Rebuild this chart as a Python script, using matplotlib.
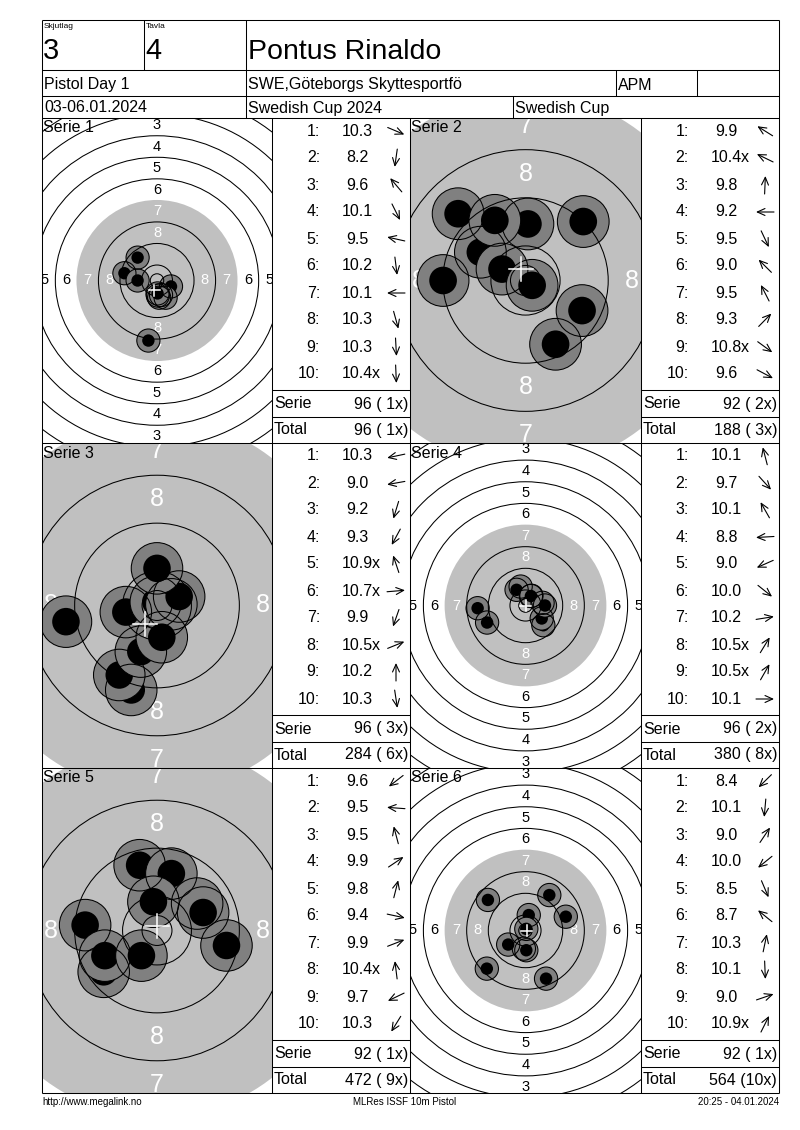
import numpy as np
import matplotlib.pyplot as plt
from matplotlib.patches import Circle

plt.rcParams['font.family'] = ['Liberation Sans', 'DejaVu Sans']

W, H = 800, 1130

# header / footer texts
relay = '3'
lane = '4'
shooter = 'Pontus Rinaldo'
event = 'Pistol Day 1'
club = 'SWE,Göteborgs Skyttesportfö'
shooter_class = 'APM'
dates = '03-06.01.2024'
competition = 'Swedish Cup 2024'
cup = 'Swedish Cup'
footer_left = 'http://www.megalink.no'
footer_mid = 'MLRes ISSF 10m Pistol'
footer_right = '20:25 - 04.01.2024'

# printed shot values per serie
s1_scores = ['10.3', '8.2', '9.6', '10.1', '9.5', '10.2', '10.1', '10.3', '10.3', '10.4x']
s2_scores = ['9.9', '10.4x', '9.8', '9.2', '9.5', '9.0', '9.5', '9.3', '10.8x', '9.6']
s3_scores = ['10.3', '9.0', '9.2', '9.3', '10.9x', '10.7x', '9.9', '10.5x', '10.2', '10.3']
s4_scores = ['10.1', '9.7', '10.1', '8.8', '9.0', '10.0', '10.2', '10.5x', '10.5x', '10.1']
s5_scores = ['9.6', '9.5', '9.5', '9.9', '9.8', '9.4', '9.9', '10.4x', '9.7', '10.3']
s6_scores = ['8.4', '10.1', '9.0', '10.0', '8.5', '8.7', '10.3', '10.1', '9.0', '10.9x']

# shot positions, mm from target centre (x right, y up)
s1_x = [5.2, -3.2, -7.2, 3.2, -12.1, 0.8, -7.2, 1.5, 0.3, 0.2]
s1_y = [-2.2, -22.3, 8.5, -6.4, 2.7, -6.4, 0.0, -5.4, -5.6, -4.8]
s2_x = [-7.5, -3.9, 0.4, -13.7, 5.0, -11.2, -5.1, 9.6, 1.1, 9.4]
s2_y = [4.7, 1.9, 9.4, 0.0, -10.6, 11.1, 10.0, 9.8, -0.8, -5.0]
s3_x = [-5.2, -15.2, -4.3, -6.3, -0.2, 2.4, -2.7, 3.7, 0.0, 0.8]
s3_y = [-1.1, -2.7, -14.1, -11.6, 0.6, 0.2, -7.7, 1.5, 6.2, -5.3]
s4_x = [-1.8, 6.6, -3.3, -17.7, -14.2, 6.0, 6.3, 2.2, 2.0, 7.2]
s4_y = [7.0, -7.3, 5.8, -1.0, -6.3, -4.8, 1.0, 3.6, 3.5, 0.0]
s5_x = [-8.9, -12.0, -2.9, 6.7, 2.4, 11.6, 7.7, -0.6, -8.7, -2.6]
s5_y = [-6.9, 0.9, 10.9, 4.5, 9.5, -2.5, 3.0, 4.8, -4.2, -4.2]
s6_x = [-14.3, -0.6, 8.8, -6.4, 7.6, -13.9, 1.2, 0.3, 14.9, 0.3]
s6_y = [-14.1, -6.7, 13.1, -5.2, -17.8, 11.3, 5.7, -7.3, 5.1, 0.6]

# white cross (group centre), mm
mpi_x = [-1.0, -0.7, -2.0, 0.1, 0.05, 0.4]
mpi_y = [-3.7, 1.9, -3.1, -0.1, 0.8, 0.0]

# serie / running totals
serie_sum = [96, 92, 96, 96, 92, 92]
serie_x = [1, 2, 3, 2, 1, 1]
total_sum = [96, 188, 284, 380, 472, 564]
total_x = [1, 3, 6, 8, 9, 10]

# zoomed view or full view for each target
zoomed = [False, True, True, False, True, False]

scores = [s1_scores, s2_scores, s3_scores, s4_scores, s5_scores, s6_scores]
shots_x = [s1_x, s2_x, s3_x, s4_x, s5_x, s6_x]
shots_y = [s1_y, s2_y, s3_y, s4_y, s5_y, s6_y]

# ISSF 10m pistol target (mm)
INNER_TEN = 2.5
RING_STEP = 8.0
TEN_R = 5.75
SHOT_OUT = 4.3
SHOT_IN = 2.3

LW = 0.75
GRAY = '#c0c0c0'
SHOT_GRAY = '#808080'

fig = plt.figure(figsize=(W / 100, H / 100), dpi=100)

# layout in pixels
LEFT, RIGHT, TOP = 42, 779, 20
COLS = [(42, 272, 410), (410, 641, 779)]   # target left, table left, table right
ROWS = [118, 443, 768]
PANEL_H = 325


def px_axes(x0, y0, w, h):
    return fig.add_axes([x0 / W, 1 - (y0 + h) / H, w / W, h / H])


def draw_target(ax, k, w, h):
    half_w = 19.2 if zoomed[k] else 42.7
    half_h = half_w * h / w
    ax.set_xlim(-half_w, half_w)
    ax.set_ylim(-half_h, half_h)
    ax.set_axis_off()

    black_r = 31.2 if zoomed[k] else 29.9
    ax.add_patch(Circle((0, 0), black_r, color=GRAY, lw=0, zorder=1))

    # ring numbers
    fs = 18 if zoomed[k] else 10.5
    for n in range(1, 9):
        r = TEN_R + RING_STEP * (10 - n) - RING_STEP / 2
        col = 'white' if n >= 7 else 'black'
        pos = []
        if r < half_h:
            pos += [(0, r), (0, -r)]
        if r < half_w:
            pos += [(r, 0), (-r, 0)]
        for px, py in pos:
            ax.text(px, py, str(n), color=col, fontsize=fs, ha='center',
                    va='center', zorder=2, clip_on=True)

    # shots
    xs, ys = shots_x[k], shots_y[k]
    for sx, sy in zip(xs, ys):
        ax.add_patch(Circle((sx, sy), SHOT_OUT, facecolor=SHOT_GRAY,
                            edgecolor='none', zorder=3))
        ax.add_patch(Circle((sx, sy), SHOT_IN, facecolor='black',
                            edgecolor='none', zorder=3))
    for sx, sy in zip(xs, ys):
        ax.add_patch(Circle((sx, sy), SHOT_OUT, fill=False,
                            edgecolor='black', lw=LW, zorder=4))

    # ring lines (no line at the edge of the black)
    radii = [INNER_TEN] + [TEN_R + RING_STEP * i for i in range(0, 10) if i != 3]
    for r in radii:
        ax.add_patch(Circle((0, 0), r, fill=False, edgecolor='black',
                            lw=LW, zorder=4))

    # group centre cross
    c = 2.0
    ax.plot([mpi_x[k] - c, mpi_x[k] + c], [mpi_y[k], mpi_y[k]],
            color='white', lw=1.1, zorder=5)
    ax.plot([mpi_x[k], mpi_x[k]], [mpi_y[k] - c, mpi_y[k] + c],
            color='white', lw=1.1, zorder=5)


# targets
for k in range(6):
    r, c = divmod(k, 2)
    x0, xt, _ = COLS[c]
    ax = px_axes(x0, ROWS[r], xt - x0, PANEL_H)
    draw_target(ax, k, xt - x0, PANEL_H)

# overlay for frame, tables and text (pixel coordinates)
ov = fig.add_axes([0, 0, 1, 1], zorder=10)
ov.set_xlim(0, W)
ov.set_ylim(H, 0)
ov.set_axis_off()
ov.patch.set_alpha(0)

bottom = ROWS[-1] + PANEL_H
ov.hlines([TOP, 70, 96, 118, 443, 768, bottom], LEFT, RIGHT, color='black', lw=LW)
ov.vlines([LEFT, RIGHT], TOP, bottom, color='black', lw=LW)
ov.vlines([144], TOP, 70, color='black', lw=LW)
ov.vlines([246], TOP, 118, color='black', lw=LW)
ov.vlines([616, 697], 70, 96, color='black', lw=LW)
ov.vlines([513], 96, 118, color='black', lw=LW)
ov.vlines([272, 410, 641], 118, bottom, color='black', lw=LW)

# header
ov.text(44, 27, 'Skjutlag', fontsize=6, va='center')
ov.text(146, 27, 'Tavla', fontsize=6, va='center')
ov.text(43, 51, relay, fontsize=21, va='center')
ov.text(145, 51, lane, fontsize=21, va='center')
ov.text(248, 52, shooter, fontsize=20.5, va='center')
ov.text(44, 85, event, fontsize=11.5, va='center')
ov.text(248, 85, club, fontsize=11.5, va='center')
ov.text(618, 85, shooter_class, fontsize=11.5, va='center')
ov.text(44, 108, dates, fontsize=11.5, va='center')
ov.text(248, 108, competition, fontsize=11.5, va='center')
ov.text(515, 108, cup, fontsize=11.5, va='center')

# tables
for k in range(6):
    r, c = divmod(k, 2)
    x0, tx, tx1 = COLS[c]
    y0 = ROWS[r]
    ov.text(x0 + 1, y0 + 10, f'Serie {k + 1}', fontsize=11.5, va='center')
    for i, s in enumerate(scores[k]):
        y = y0 + 13 + 27 * i
        ov.text(tx + 48, y, f'{i + 1}:', fontsize=11.5, ha='right', va='center')
        val = s.rstrip('x')
        ov.text(tx + 85, y, val, fontsize=11.5, ha='center', va='center')
        if s.endswith('x'):
            ov.text(tx + 100, y, 'x', fontsize=11.5, ha='left', va='center')
        ang = np.arctan2(shots_y[k][i], shots_x[k][i])
        ax_c, L = tx + 124, 9.0
        dx, dy = L * np.cos(ang), -L * np.sin(ang)
        ov.annotate('', xy=(ax_c + dx, y + dy), xytext=(ax_c - dx, y - dy),
                    arrowprops=dict(arrowstyle='->,head_length=0.55,head_width=0.25',
                                    lw=0.8, color='black', shrinkA=0, shrinkB=0,
                                    mutation_scale=10))
    ov.hlines([y0 + 272, y0 + 299], tx, tx1, color='black', lw=LW)
    ov.text(tx + 2, y0 + 286, 'Serie', fontsize=11.5, va='center')
    ov.text(tx1 - 2, y0 + 286, f'{serie_sum[k]} ({serie_x[k]:2d}x)',
            fontsize=11.5, ha='right', va='center')
    ov.text(tx + 2, y0 + 312, 'Total', fontsize=11.5, va='center')
    ov.text(tx1 - 2, y0 + 312, f'{total_sum[k]} ({total_x[k]:2d}x)',
            fontsize=11.5, ha='right', va='center')

# footer
ov.text(LEFT, 1102, footer_left, fontsize=7, va='center')
ov.text(405, 1102, footer_mid, fontsize=7, ha='center', va='center')
ov.text(RIGHT, 1102, footer_right, fontsize=7, ha='right', va='center')

fig.savefig('out.png', dpi=100, facecolor='white')
